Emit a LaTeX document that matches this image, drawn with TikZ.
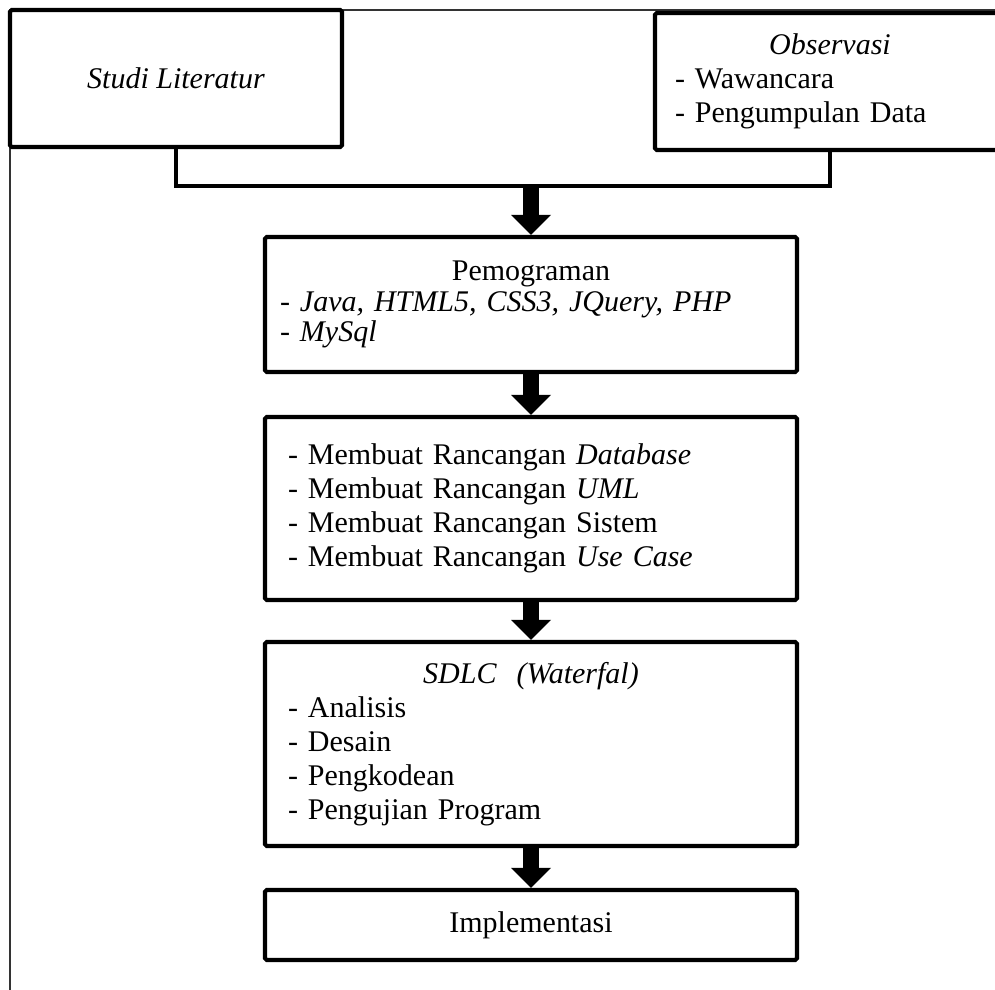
\documentclass[tikz,border=0pt]{standalone}
\usepackage{fontspec}
\setmainfont{Liberation Serif}
\usetikzlibrary{arrows.meta}

\tikzset{
  stepbox/.style={draw,line width=3.6pt,rounded corners=1.5pt,inner sep=0pt,align=left},
  bracket/.style={line width=3.6pt},
  flow/.style={line width=0.5cm,-{Triangle[width=1.2cm,length=0.6cm,line width=0pt]}},
  frame/.style={line width=1.2pt,draw=black!80}
}

\begin{document}
\begin{tikzpicture}[x=0.3mm,y=-0.3mm,font=\fontsize{25.6pt}{29pt}\selectfont]
  \clip (0,0) rectangle (995,990);
  % thin frame round the figure
  \draw[frame] (10,10) rectangle (1100,1100);
  % the two sources at the top
  \node[stepbox,minimum width=9.96cm,minimum height=4.11cm] (studi) at (176,78.5)
        {\textit{Studi Literatur}};
  \node[stepbox,minimum width=10.5cm,minimum height=4.11cm,text width=9.3cm] (obs) at (830,81.5)
        {\makebox[\hsize]{\textit{Observasi}}\\- Wawancara\\- Pengumpulan Data};
  % the chain of steps
  \node[stepbox,minimum width=15.96cm,minimum height=4.05cm,text width=15.06cm,
        font=\fontsize{25.6pt}{26pt}\selectfont] (prog) at (531,304.5)
        {\makebox[\hsize]{Pemograman}\\\textit{- Java, HTML5, CSS3, JQuery, PHP}\\\textit{- MySql}};
  \node[stepbox,minimum width=15.96cm,minimum height=5.49cm,text width=14.58cm] (design) at (531,508.5)
        {- Membuat Rancangan \textit{Database}\\- Membuat Rancangan \textit{UML}\\
         - Membuat Rancangan Sistem\\- Membuat Rancangan \textit{Use Case}};
  \node[stepbox,minimum width=15.96cm,minimum height=6.12cm,text width=14.58cm] (sdlc) at (531,744)
        {\makebox[\hsize]{\textit{SDLC\ \ (Waterfal)}}\\- Analisis\\- Desain\\- Pengkodean\\- Pengujian Program};
  \node[stepbox,minimum width=15.96cm,minimum height=2.1cm] (impl) at (531,925) {Implementasi};
  % join the sources, then go down
  \coordinate (split) at (531,186);
  \draw[bracket] (studi.south) |- (split) -| (obs.south);
  \draw[flow] (split) -- (prog.north);
  \draw[flow] (prog) -- (design);
  \draw[flow] (design) -- (sdlc);
  \draw[flow] (sdlc) -- (impl);
\end{tikzpicture}
\end{document}
